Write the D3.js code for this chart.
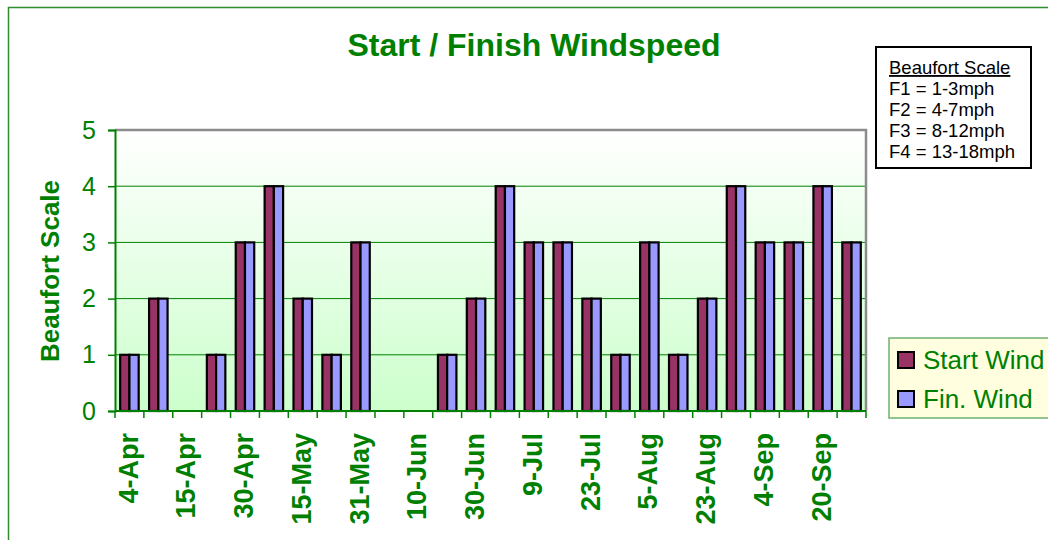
<!DOCTYPE html>
<html>
<head>
<meta charset="utf-8">
<script src="https://cdn.jsdelivr.net/npm/d3@7"></script>
<style>
    body { margin: 0; background: #fff; }
    svg { display: block; font-family: Arial, "Liberation Sans", sans-serif; }
</style>
</head>
<body>
<svg id="chart" width="1048" height="540"></svg>
<script>
// race-by-race wind, Beaufort force (start and finish)
const startWind = [1, 2, 0, 1, 3, 4, 2, 1, 3, 0, 0, 1, 2, 4, 3, 3, 2, 1, 3, 1, 2, 4, 3, 3, 4, 3];
const finWind = [1, 2, 0, 1, 3, 4, 2, 1, 3, 0, 0, 1, 2, 4, 3, 3, 2, 1, 3, 1, 2, 4, 3, 3, 4, 3];
// only every other race gets a label on the axis
const tickLabels = ["4-Apr", "15-Apr", "30-Apr", "15-May", "31-May", "10-Jun", "30-Jun",
    "9-Jul", "23-Jul", "5-Aug", "23-Aug", "4-Sep", "20-Sep"];
const yTicks = [0, 1, 2, 3, 4, 5];
const seriesNames = ["Start Wind", "Fin. Wind"];
const seriesColors = ["#993366", "#9999ff"];
const scaleNotes = ["F1 = 1-3mph", "F2 = 4-7mph", "F3 = 8-12mph", "F4 = 13-18mph"];

const green = "#008000";
const svg = d3.select("#chart");

const plot = { left: 115, right: 866, top: 130, bottom: 411 };

const races = d3.range(startWind.length);
const x = d3.scaleBand()
    .domain(races)
    .range([plot.left, plot.right])
    .paddingInner(0.36)
    .paddingOuter(0.18);
const xSub = d3.scaleBand()
    .domain([0, 1])
    .range([0, x.bandwidth()]);
const y = d3.scaleLinear()
    .domain([0, 5])
    .range([plot.bottom, plot.top]);

// outer chart frame
svg.append("rect")
    .attr("x", 8.5)
    .attr("y", 7.5)
    .attr("width", 1100)
    .attr("height", 600)
    .attr("fill", "none")
    .attr("stroke", "#2e8b2e")
    .attr("stroke-width", 1.5);

// plot background gradient
const grad = svg.append("defs")
    .append("linearGradient")
    .attr("id", "plot-bg")
    .attr("x1", 0).attr("y1", 0)
    .attr("x2", 0).attr("y2", 1);
grad.append("stop").attr("offset", "0%").attr("stop-color", "#ffffff");
grad.append("stop").attr("offset", "100%").attr("stop-color", "#ccffcc");

svg.append("rect")
    .attr("x", plot.left)
    .attr("y", plot.top)
    .attr("width", plot.right - plot.left)
    .attr("height", plot.bottom - plot.top)
    .attr("fill", "url(#plot-bg)");

// gridlines
svg.append("g")
    .selectAll("line")
    .data(yTicks.filter(d => d > 0 && d < 5))
    .join("line")
    .attr("x1", plot.left)
    .attr("x2", plot.right)
    .attr("y1", d => y(d))
    .attr("y2", d => y(d))
    .attr("stroke", green)
    .attr("stroke-width", 1);

// gray top/right frame
svg.append("path")
    .attr("d", `M${plot.left},${plot.top}H${plot.right}V${plot.bottom}`)
    .attr("fill", "none")
    .attr("stroke", "#8c8c8c")
    .attr("stroke-width", 2.5);

// bars
const groups = svg.append("g")
    .selectAll("g")
    .data(races)
    .join("g")
    .attr("transform", d => `translate(${x(d)},0)`);

groups.selectAll("rect")
    .data(i => [startWind[i], finWind[i]].map((v, s) => ({ v, s })).filter(d => d.v > 0))
    .join("rect")
    .attr("x", d => xSub(d.s))
    .attr("width", xSub.bandwidth())
    .attr("y", d => y(d.v))
    .attr("height", d => y(0) - y(d.v))
    .attr("fill", d => seriesColors[d.s])
    .attr("stroke", "#000")
    .attr("stroke-width", 2.2);

// y axis
const yAxis = svg.append("g")
    .attr("transform", `translate(${plot.left},0)`)
    .call(d3.axisLeft(y).tickValues(yTicks).tickFormat(d3.format("d")).tickSize(7).tickPadding(12));
yAxis.select(".domain").attr("stroke", green).attr("stroke-width", 2);
yAxis.selectAll(".tick line").attr("stroke", green).attr("stroke-width", 1.5);
yAxis.selectAll(".tick text")
    .attr("fill", green)
    .attr("font-size", 25)
    .attr("font-family", "Arial, 'Liberation Sans', sans-serif");

// x axis: ticks on the band edges, labels on every other race
const xAxis = svg.append("g")
    .attr("transform", `translate(0,${plot.bottom})`);
xAxis.append("line")
    .attr("x1", plot.left)
    .attr("x2", plot.right)
    .attr("stroke", green)
    .attr("stroke-width", 2);
xAxis.selectAll(".edge")
    .data(d3.range(races.length + 1))
    .join("line")
    .attr("class", "edge")
    .attr("x1", i => plot.left + i * x.step())
    .attr("x2", i => plot.left + i * x.step())
    .attr("y1", 0)
    .attr("y2", 7)
    .attr("stroke", green)
    .attr("stroke-width", 1.5);
xAxis.selectAll("text")
    .data(tickLabels)
    .join("text")
    .attr("transform", (d, i) => `translate(${x(i * 2) + x.bandwidth() / 2},22) rotate(-90)`)
    .attr("text-anchor", "end")
    .attr("dy", "0.3em")
    .attr("fill", green)
    .attr("font-size", 27)
    .attr("font-weight", "bold")
    .text(d => d);

// titles
svg.append("text")
    .attr("x", 534)
    .attr("y", 56)
    .attr("text-anchor", "middle")
    .attr("fill", green)
    .attr("font-size", 32)
    .attr("font-weight", "bold")
    .text("Start / Finish Windspeed");

svg.append("text")
    .attr("transform", "translate(59,271) rotate(-90)")
    .attr("text-anchor", "middle")
    .attr("fill", green)
    .attr("font-size", 26)
    .attr("font-weight", "bold")
    .text("Beaufort Scale");

// series legend
const legend = svg.append("g").attr("transform", "translate(889,338)");
legend.append("rect")
    .attr("width", 200)
    .attr("height", 80)
    .attr("fill", "#ffffe0")
    .attr("stroke", "#70b070")
    .attr("stroke-width", 1.5);
const items = legend.selectAll(".item")
    .data(seriesNames)
    .join("g")
    .attr("class", "item")
    .attr("transform", (d, i) => `translate(9,${14 + i * 39})`);
items.append("rect")
    .attr("width", 16)
    .attr("height", 16)
    .attr("fill", (d, i) => seriesColors[i])
    .attr("stroke", "#000")
    .attr("stroke-width", 2);
items.append("text")
    .attr("x", 25)
    .attr("y", 8)
    .attr("dy", "0.36em")
    .attr("fill", green)
    .attr("font-size", 26)
    .text(d => d);

// Beaufort scale note box
const note = svg.append("g").attr("transform", "translate(876,47)");
note.append("rect")
    .attr("width", 155)
    .attr("height", 121)
    .attr("fill", "#fff")
    .attr("stroke", "#000")
    .attr("stroke-width", 2);
note.append("text")
    .attr("x", 13)
    .attr("y", 27)
    .attr("font-size", 18.5)
    .attr("text-decoration", "underline")
    .text("Beaufort Scale");
note.selectAll(".line")
    .data(scaleNotes)
    .join("text")
    .attr("class", "line")
    .attr("x", 13)
    .attr("y", (d, i) => 48 + i * 21)
    .attr("font-size", 18.5)
    .text(d => d);
</script>
</body>
</html>
